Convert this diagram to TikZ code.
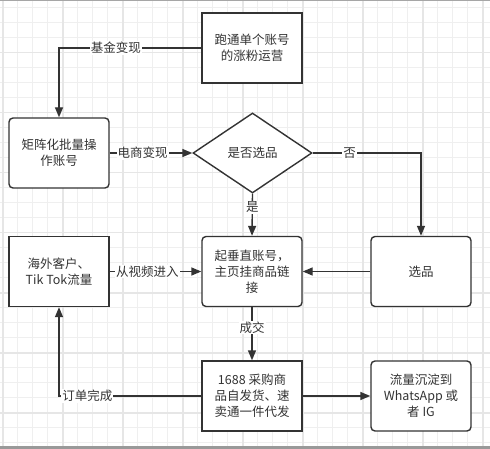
\documentclass[tikz,border=0pt]{standalone}
\usepackage{fontspec}
\setmainfont{Noto Sans CJK SC}
\usetikzlibrary{arrows.meta,shapes.geometric}
\definecolor{linec}{HTML}{333333}
\definecolor{textc}{HTML}{333333}
\definecolor{gridminor}{HTML}{EFEFEF}
\definecolor{gridmajor}{HTML}{E6E6E6}
\begin{document}
\begin{tikzpicture}[x=1pt,y=-1pt,
  box/.style={draw=linec, line width=1.4pt, fill=white, minimum width=100pt, minimum height=70pt,
    align=center, text=textc, inner sep=2pt, font=\fontsize{12.5}{16}\selectfont},
  rbox/.style={box, rounded corners=4pt},
  dec/.style={draw=linec, line width=1.4pt, fill=white, shape=diamond, minimum width=119pt,
    minimum height=80pt, inner sep=0pt, text=textc, font=\fontsize{12.5}{16}\selectfont},
  conn/.style={draw=linec, line width=1.4pt, -{Triangle[length=10pt,width=8pt]}},
  lab/.style={fill=white, text=textc, inner sep=1pt, font=\fontsize{12.5}{15}\selectfont}
]
\useasboundingbox (0,0) rectangle (490,449);
\fill[white] (0,0) rectangle (490,449);
% grid
\foreach \i in {0,...,32} {
  \draw[gridminor, line width=1pt] ({2.7+15*\i},0) -- ({2.7+15*\i},449);
}
\foreach \i in {0,...,29} {
  \draw[gridminor, line width=1pt] (0,{7.7+15*\i}) -- (490,{7.7+15*\i});
}
\foreach \i in {0,...,8} {
  \draw[gridmajor, line width=1.6pt] ({2.7+60*\i},0) -- ({2.7+60*\i},449);
}
\foreach \i in {0,...,7} {
  \draw[gridmajor, line width=1.6pt] (0,{-7.3+60*\i}) -- (490,{-7.3+60*\i});
}
\fill[gray!70] (0,0) rectangle (490,1.2);
\fill[gray!80] (0,445.5) rectangle (490,449);

% nodes
\node[box] (top) at (252,48) {跑通单个账号\\的涨粉运营};
\node[rbox] (matrix) at (59,153) {矩阵化批量操\\作账号};
\node[dec] (choose) at (252.5,153) {是否选品};
\node[box] (overseas) at (59,271.5) {海外客户、\\Tik Tok流量};
\node[rbox] (vertical) at (252,271.5) {起垂直账号，\\主页挂商品链\\接};
\node[rbox] (pick) at (421,271.5) {选品};
\node[box] (purchase) at (252,396) {1688 采购商\\品自发货、速\\卖通一件代发};
\node[rbox] (traffic) at (421,396) {流量沉淀到\\WhatsApp 或\\者 IG};

% connectors
\draw[conn] (top.west) -| node[lab, pos=0.3] {基金变现} (matrix.north);
\draw[conn] (matrix.east) -- node[lab, pos=0.4] {电商变现} (choose.west);
\draw[conn] (choose.east) -| node[lab, pos=0.17] {否} (pick.north);
\draw[conn] (choose.south) -- node[lab, pos=0.32] {是} (vertical.north);
\draw[conn] (pick.west) -- (vertical.east);
\draw[conn] (overseas.east) -- node[lab, pos=0.41] {从视频进入} (vertical.west);
\draw[conn] (vertical.south) -- node[lab, pos=0.38] {成交} (purchase.north);
\draw[conn] (purchase.east) -- (traffic.west);
\draw[conn] (purchase.west) -| node[lab, pos=0.4] {订单完成} (overseas.south);
\end{tikzpicture}
\end{document}
